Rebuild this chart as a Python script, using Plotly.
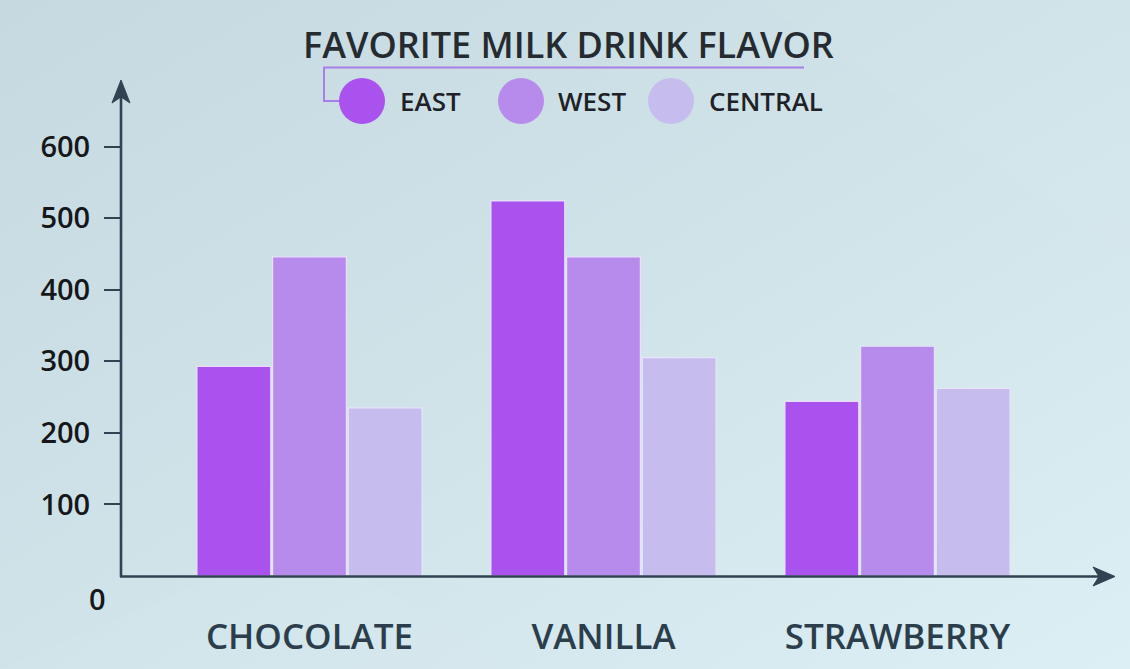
import base64
import plotly.graph_objects as go

# ---------------- data ----------------
categories = ["CHOCOLATE", "VANILLA", "STRAWBERRY"]
series_names = ["EAST", "WEST", "CENTRAL"]
east = [293, 524, 244]
west = [446, 446, 321]
central = [235, 305, 262]
y_tick_values = [100, 200, 300, 400, 500, 600]
zero_label = "0"
title_text = "FAVORITE MILK DRINK FLAVOR"
series_colors = ["#a952ee", "#b78bec", "#c6bdee"]

# ---------------- geometry helpers ----------------
W, H = 1130, 669
FONT = "Open Sans"
AXIS_COLOR = "#2f4352"


def px(x):
    return x / W


def py(y):
    return 1 - y / H


def path(points):
    return "M " + " L ".join(f"{px(x):.5f},{py(y):.5f}" for x, y in points) + " Z"


fig = go.Figure()
for name, vals, col in zip(series_names, [east, west, central], series_colors):
    fig.add_trace(go.Bar(
        x=categories, y=vals, name=name,
        marker=dict(color=col, line=dict(color="rgba(236,228,252,0.9)", width=1.2)),
        showlegend=False, hoverinfo="x+y+name",
    ))

# background gradient as an inline svg
svg = (
    '<svg xmlns="http://www.w3.org/2000/svg" width="1130" height="669">'
    '<defs><linearGradient id="g" x1="0" y1="0" x2="1" y2="1">'
    '<stop offset="0" stop-color="#c6d9e0"/>'
    '<stop offset="0.5" stop-color="#d0e3e9"/>'
    '<stop offset="1" stop-color="#dbeff5"/>'
    '</linearGradient></defs>'
    '<rect width="1130" height="669" fill="url(#g)"/>'
    '<polygon points="0,669 300,540 520,669" fill="#ffffff" fill-opacity="0.04"/>'
    '<polygon points="760,0 1130,0 1130,260" fill="#ffffff" fill-opacity="0.04"/>'
    '</svg>'
)
bg_src = "data:image/svg+xml;base64," + base64.b64encode(svg.encode()).decode()

x0_px, x1_px = 121, 1100
y0_px, ytop_px = 576, 75
cat_left = -(309.5 - x0_px) / 294
cat_right = 2 + (x1_px - 897.5) / 294

shapes = [
    # y axis line + arrow
    dict(type="line", xref="paper", yref="paper", x0=px(121), y0=py(577), x1=px(121), y1=py(96),
         line=dict(color=AXIS_COLOR, width=2.6)),
    dict(type="path", xref="paper", yref="paper",
         path=path([(121, 80), (112, 103), (121, 97), (130, 103)]),
         fillcolor=AXIS_COLOR, line=dict(color=AXIS_COLOR, width=1)),
    # x axis line + arrow
    dict(type="line", xref="paper", yref="paper", x0=px(120), y0=py(576.5), x1=px(1100), y1=py(576.5),
         line=dict(color=AXIS_COLOR, width=2.6)),
    dict(type="path", xref="paper", yref="paper",
         path=path([(1115, 576.5), (1093, 567), (1099, 576.5), (1093, 586)]),
         fillcolor=AXIS_COLOR, line=dict(color=AXIS_COLOR, width=1)),
    # legend connector line
    dict(type="path", xref="paper", yref="paper",
         path="M " + " L ".join(f"{px(x):.5f},{py(y):.5f}" for x, y in [(804, 67.5), (324, 67.5), (324, 101), (345, 101)]),
         line=dict(color="#a77fe6", width=2)),
]

annotations = [
    dict(text=title_text, xref="paper", yref="paper", x=px(568.5), y=py(45),
         xanchor="center", yanchor="middle", showarrow=False,
         font=dict(family=FONT, size=36, color="#262b30", weight=600)),
    dict(text=zero_label, xref="paper", yref="paper", x=px(97), y=py(598),
         xanchor="center", yanchor="middle", showarrow=False,
         font=dict(family=FONT, size=29, color="#151719", weight=600)),
]

legend_circle_x = [362, 521, 671]
legend_text_x = [398, 556, 707]
for name, col, cx, tx in zip(series_names, series_colors, legend_circle_x, legend_text_x):
    shapes.append(dict(type="circle", xref="paper", yref="paper",
                       x0=px(cx - 23), x1=px(cx + 23), y0=py(101 + 23), y1=py(101 - 23),
                       fillcolor=col, line=dict(width=0)))
    annotations.append(dict(text=name, xref="paper", yref="paper", x=px(tx), y=py(101),
                            xanchor="left", yanchor="middle", showarrow=False,
                            font=dict(family=FONT, size=26, color="#1e2226", weight=600)))

fig.update_layout(
    width=W, height=H,
    margin=dict(l=0, r=0, t=0, b=0),
    paper_bgcolor="#cfe3e9",
    plot_bgcolor="rgba(0,0,0,0)",
    barmode="group", bargap=0.228, bargroupgap=0.025,
    images=[dict(source=bg_src, xref="paper", yref="paper", x=0, y=1, sizex=1, sizey=1,
                 sizing="stretch", xanchor="left", yanchor="top", layer="below")],
    xaxis=dict(domain=[px(x0_px), px(x1_px)], range=[cat_left, cat_right], type="category",
               showgrid=False, zeroline=False, showline=False, ticks="",
               tickfont=dict(family=FONT, size=35, color="#2c3e4c", weight=600),
               ticklabelstandoff=37, automargin=False, fixedrange=True),
    yaxis=dict(domain=[py(y0_px), py(ytop_px)], range=[0, 700],
               tickvals=y_tick_values, ticktext=[str(v) for v in y_tick_values],
               showgrid=False, zeroline=False, showline=False,
               ticks="outside", ticklen=16, tickwidth=2.2, tickcolor=AXIS_COLOR,
               tickfont=dict(family=FONT, size=29, color="#151719", weight=600),
               ticklabelstandoff=8, automargin=False, fixedrange=True),
    shapes=shapes,
    annotations=annotations,
    showlegend=False,
)

fig.write_html("out.html")
